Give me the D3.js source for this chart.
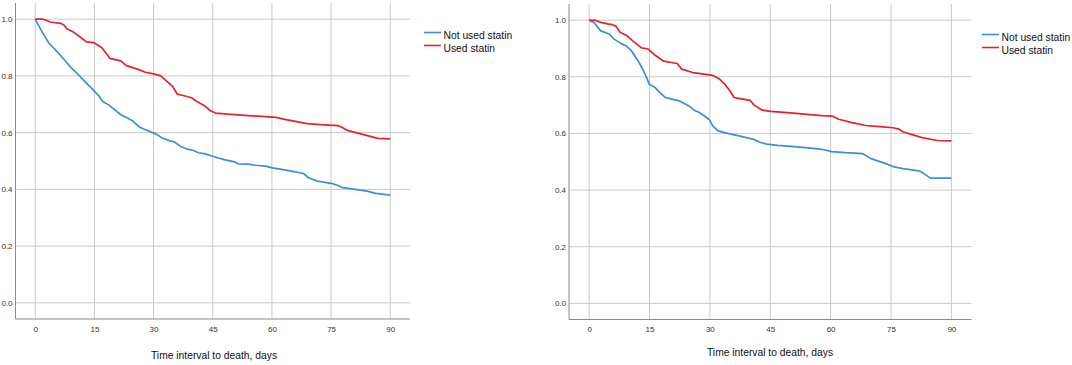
<!DOCTYPE html>
<html>
<head>
<meta charset="utf-8">
<script src="https://cdn.jsdelivr.net/npm/d3@7"></script>
<style>
  body { margin: 0; background: #fff; }
  svg { display: block; font-family: "Liberation Sans", Arial, sans-serif; }
</style>
</head>
<body>
<div id="chart"></div>
<script>
// tick labels
const xTicks = [0, 15, 30, 45, 60, 75, 90];
const yTicks = [0, 0.2, 0.4, 0.6, 0.8, 1.0];
const seriesNames = ["Not used statin", "Used statin"];
const xTitle = "Time interval to death, days";

// left panel - days / cumulative survival
const leftNotUsedDays = [0, 1.7, 3.4, 5.6, 7.8, 9.1, 10.4, 12.6, 14.8, 16.1, 17.1, 18.7, 21.7, 23.5, 24.8, 26.5, 27.8, 29.6, 30.9, 32.2, 34, 35.3, 37, 38.3, 40.1, 41.4, 43.1, 45.3, 47.9, 50.5, 51.4, 54, 55.8, 58.4, 60.1, 63.6, 68, 69.3, 71.5, 75.4, 76.3, 78, 81.1, 84.1, 86.3, 90];
const leftNotUsedSurv = [1.0, 0.956, 0.917, 0.885, 0.850, 0.829, 0.812, 0.780, 0.749, 0.730, 0.710, 0.697, 0.663, 0.651, 0.640, 0.619, 0.611, 0.601, 0.593, 0.581, 0.572, 0.567, 0.550, 0.543, 0.537, 0.529, 0.525, 0.515, 0.505, 0.497, 0.490, 0.489, 0.485, 0.482, 0.476, 0.468, 0.456, 0.441, 0.429, 0.420, 0.416, 0.406, 0.400, 0.394, 0.386, 0.380];
const leftUsedDays = [0, 1.7, 2.5, 3.8, 6.5, 7.2, 8, 9.5, 11.3, 13, 14.9, 16.9, 18.9, 21.7, 23, 26.1, 27.9, 30, 31.8, 33.1, 34.8, 36, 37.5, 39.6, 41, 42.9, 44.3, 45.7, 48.8, 54, 60.1, 61, 63.6, 68.9, 72.4, 76.7, 77.6, 79.3, 82.8, 86.8, 90];
const leftUsedSurv = [1.0, 1.0, 0.998, 0.99, 0.985, 0.98, 0.966, 0.956, 0.938, 0.920, 0.917, 0.899, 0.862, 0.853, 0.837, 0.823, 0.813, 0.807, 0.800, 0.784, 0.763, 0.736, 0.731, 0.723, 0.710, 0.695, 0.678, 0.669, 0.665, 0.660, 0.655, 0.654, 0.646, 0.632, 0.628, 0.625, 0.620, 0.607, 0.595, 0.580, 0.578];

// right panel
const rightNotUsedDays = [0, 1.2, 2.9, 5, 6.2, 7.9, 9.2, 10.5, 12.2, 13.4, 14.3, 14.9, 16.4, 17.6, 18.9, 20.6, 22.3, 24.8, 26.1, 27.4, 29, 29.9, 30.7, 32, 33.7, 35.8, 38.3, 40.9, 42.6, 44.2, 46.8, 50.2, 54.4, 57.8, 60.3, 63.7, 67.9, 70, 73, 75.5, 78, 81.9, 83.1, 84.8, 90];
const rightNotUsedSurv = [1.0, 0.992, 0.962, 0.951, 0.933, 0.918, 0.909, 0.892, 0.856, 0.824, 0.797, 0.774, 0.762, 0.744, 0.727, 0.721, 0.715, 0.697, 0.682, 0.674, 0.658, 0.648, 0.627, 0.609, 0.603, 0.596, 0.588, 0.579, 0.568, 0.562, 0.558, 0.554, 0.549, 0.544, 0.536, 0.532, 0.529, 0.511, 0.497, 0.483, 0.476, 0.468, 0.459, 0.442, 0.442];
const rightUsedDays = [0, 1.6, 2.9, 4.6, 5.8, 6.7, 7.7, 9.2, 10.9, 13, 14.7, 16.4, 18.5, 21.9, 23, 25.7, 28.2, 30.7, 32.4, 33.7, 35, 36, 37.5, 40, 41, 43, 45.1, 48.5, 53.5, 57.8, 60.5, 62, 65.3, 68.7, 72.1, 75.5, 77, 78, 80.5, 82.7, 86.5, 90];
const rightUsedSurv = [1.0, 0.999, 0.992, 0.987, 0.984, 0.978, 0.957, 0.947, 0.926, 0.902, 0.898, 0.876, 0.855, 0.847, 0.827, 0.815, 0.810, 0.805, 0.792, 0.774, 0.750, 0.727, 0.723, 0.717, 0.700, 0.682, 0.678, 0.674, 0.668, 0.663, 0.661, 0.650, 0.638, 0.628, 0.624, 0.620, 0.615, 0.605, 0.595, 0.585, 0.575, 0.574];

const colors = ["#3b8ede", "#e3232c"];
const width = 1072, height = 365;

const svg = d3.select("#chart").append("svg")
    .attr("width", width)
    .attr("height", height);

const panels = [
  { x0: 15.5, x1: 410, y0: 3, y1: 319, titleX: 214, titleY: 359, legX: 424, legY: 32.5,
    series: [[leftNotUsedDays, leftNotUsedSurv], [leftUsedDays, leftUsedSurv]] },
  { x0: 569, x1: 971.5, y0: 4, y1: 319.5, titleX: 770, titleY: 356, legX: 982, legY: 34.5,
    series: [[rightNotUsedDays, rightNotUsedSurv], [rightUsedDays, rightUsedSurv]] }
];

panels.forEach(p => {
  const x = d3.scaleLinear().domain([-5, 95]).range([p.x0, p.x1]);
  const y = d3.scaleLinear().domain([-0.057, 1.057]).range([p.y1, p.y0]);
  const g = svg.append("g");

  // grid
  g.append("g").selectAll("line").data(yTicks).join("line")
      .attr("x1", p.x0).attr("x2", p.x1)
      .attr("y1", d => y(d)).attr("y2", d => y(d))
      .attr("stroke", "#c9c9c9").attr("stroke-width", 1);
  g.append("g").selectAll("line").data(xTicks).join("line")
      .attr("x1", d => x(d)).attr("x2", d => x(d))
      .attr("y1", p.y0).attr("y2", p.y1)
      .attr("stroke", "#c9c9c9").attr("stroke-width", 1);

  // axes
  const ax = g.append("g").attr("transform", `translate(0,${p.y1})`)
      .call(d3.axisBottom(x).tickValues(xTicks).tickSize(0).tickPadding(7).tickFormat(d3.format("d")));
  ax.select(".domain").attr("stroke", "#8a8a8a").attr("d", `M${p.x0},0H${p.x1}`);
  ax.selectAll("text").attr("font-size", 8).attr("fill", "#333").attr("font-family", null);

  const ay = g.append("g").attr("transform", `translate(${p.x0},0)`)
      .call(d3.axisLeft(y).tickValues(yTicks).tickSize(0).tickPadding(3).tickFormat(d3.format(".1f")));
  ay.select(".domain").attr("stroke", "#8a8a8a").attr("d", `M0,${p.y0}V${p.y1}`);
  ay.selectAll("text").attr("font-size", 8).attr("fill", "#333").attr("font-family", null);

  // curves
  const line = d3.line().x(d => x(d[0])).y(d => y(d[1]));
  p.series.forEach(([days, surv], i) => {
    g.append("path")
        .datum(d3.zip(days, surv))
        .attr("fill", "none")
        .attr("stroke", colors[i])
        .attr("stroke-width", 1.7)
        .attr("stroke-linejoin", "round")
        .attr("d", line);
  });

  // axis title
  g.append("text")
      .attr("x", p.titleX).attr("y", p.titleY)
      .attr("text-anchor", "middle")
      .attr("font-size", 10.3).attr("fill", "#111")
      .text(xTitle);

  // legend
  const leg = g.append("g").selectAll("g").data(seriesNames).join("g")
      .attr("transform", (d, i) => `translate(${p.legX},${p.legY + i * 13})`);
  leg.append("line").attr("x1", 0).attr("x2", 17)
      .attr("stroke", (d, i) => colors[i]).attr("stroke-width", 1.6);
  leg.append("text").attr("x", 19.5).attr("y", 6)
      .attr("font-size", 10.3).attr("fill", "#111")
      .text(d => d);
});
</script>
</body>
</html>
